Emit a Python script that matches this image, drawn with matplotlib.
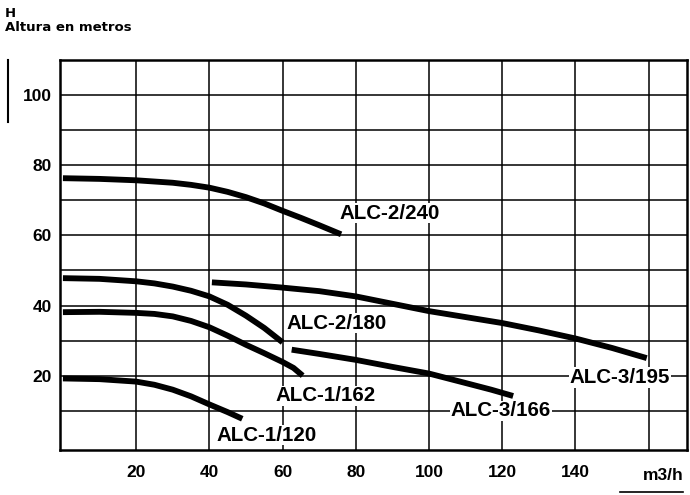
import matplotlib.pyplot as plt
from matplotlib.lines import Line2D

# caudal (m3/h) y altura (m)
q_2240 = [0, 10, 20, 30, 35, 40, 45, 50, 55, 60, 65, 70, 76]
h_2240 = [76.3, 76.1, 75.7, 75.0, 74.4, 73.6, 72.4, 70.9, 69.1, 67.0, 65.0, 62.9, 60.3]

q_2180 = [0, 10, 20, 25, 30, 35, 40, 45, 50, 55, 60]
h_2180 = [47.8, 47.6, 46.9, 46.3, 45.4, 44.2, 42.6, 40.2, 37.1, 33.6, 29.5]

q_1162 = [0, 10, 20, 25, 30, 35, 40, 45, 50, 55, 60, 63, 65.5]
h_1162 = [38.1, 38.2, 37.9, 37.6, 36.9, 35.6, 33.8, 31.4, 28.8, 26.4, 23.9, 22.2, 20.0]

q_1120 = [0, 10, 20, 25, 30, 35, 40, 45, 49]
h_1120 = [19.2, 19.0, 18.3, 17.4, 16.0, 14.1, 11.8, 9.6, 7.7]

q_3195 = [40.7, 50, 60, 70, 80, 90, 100, 110, 120, 130, 140, 150, 159.5]
h_3195 = [46.6, 46.0, 45.1, 44.1, 42.6, 40.5, 38.4, 36.7, 35.0, 32.9, 30.6, 27.9, 25.0]

q_3166 = [62.5, 70, 80, 90, 100, 110, 117, 123]
h_3166 = [27.4, 26.2, 24.5, 22.5, 20.6, 17.9, 16.0, 14.2]

curvas = [
    (q_2240, h_2240, 'ALC-2/240', 75.5, 66.3),
    (q_2180, h_2180, 'ALC-2/180', 61.0, 35.0),
    (q_1162, h_1162, 'ALC-1/162', 58.2, 14.3),
    (q_1120, h_1120, 'ALC-1/120', 42.0, 3.0),
    (q_3195, h_3195, 'ALC-3/195', 138.5, 19.5),
    (q_3166, h_3166, 'ALC-3/166', 106.0, 10.0),
]

x_ticks = [20, 40, 60, 80, 100, 120, 140]
y_ticks = [20, 40, 60, 80, 100]

fig = plt.figure(figsize=(6.9, 4.95), dpi=100)
ax = fig.add_axes([60 / 690, 45 / 495, 627 / 690, 390 / 495])

# cuadricula
for x in range(20, 161, 20):
    ax.axvline(x, color='black', lw=1.1, zorder=1)
for y in range(10, 101, 10):
    ax.axhline(y, color='black', lw=1.1, zorder=1)

for q, h, nombre, tx, ty in curvas:
    ax.plot(q, h, color='black', lw=4.2, solid_capstyle='butt',
            solid_joinstyle='round', zorder=3)
    ax.text(tx, ty, nombre, ha='left', va='center', fontsize=14.8,
            fontweight='bold', family='Liberation Sans', zorder=4,
            bbox=dict(facecolor='white', edgecolor='none', pad=0.5))

ax.set_xlim(-0.8, 170.5)
ax.set_ylim(-1.2, 110)
ax.set_xticks(x_ticks)
ax.set_yticks(y_ticks)
ax.tick_params(length=0, labelsize=12.5)
ax.tick_params(axis='x', pad=11)
ax.tick_params(axis='y', pad=6)
for lab in ax.get_xticklabels() + ax.get_yticklabels():
    lab.set_fontweight('bold')
    lab.set_family('Liberation Sans')
for s in ax.spines.values():
    s.set_linewidth(1.8)

ax.text(164, -6.2, 'm3/h', ha='center', va='top', fontsize=12.5,
        fontweight='bold', family='Liberation Sans')

fig.text(5 / 690, 1 - 7 / 495, 'H', ha='left', va='top', fontsize=9.5,
         fontweight='bold', family='DejaVu Sans')
fig.text(5 / 690, 1 - 21 / 495, 'Altura en metros', ha='left', va='top',
         fontsize=9.5, fontweight='bold', family='DejaVu Sans')

# marcas sueltas del escaneo
fig.add_artist(Line2D([8 / 690, 8 / 690], [1 - 60 / 495, 1 - 122 / 495],
                      color='black', lw=1.5))
fig.add_artist(Line2D([620 / 690, 683 / 690], [1 - 492 / 495, 1 - 492 / 495],
                      color='black', lw=1.2))

fig.savefig('out.png', dpi=100)
